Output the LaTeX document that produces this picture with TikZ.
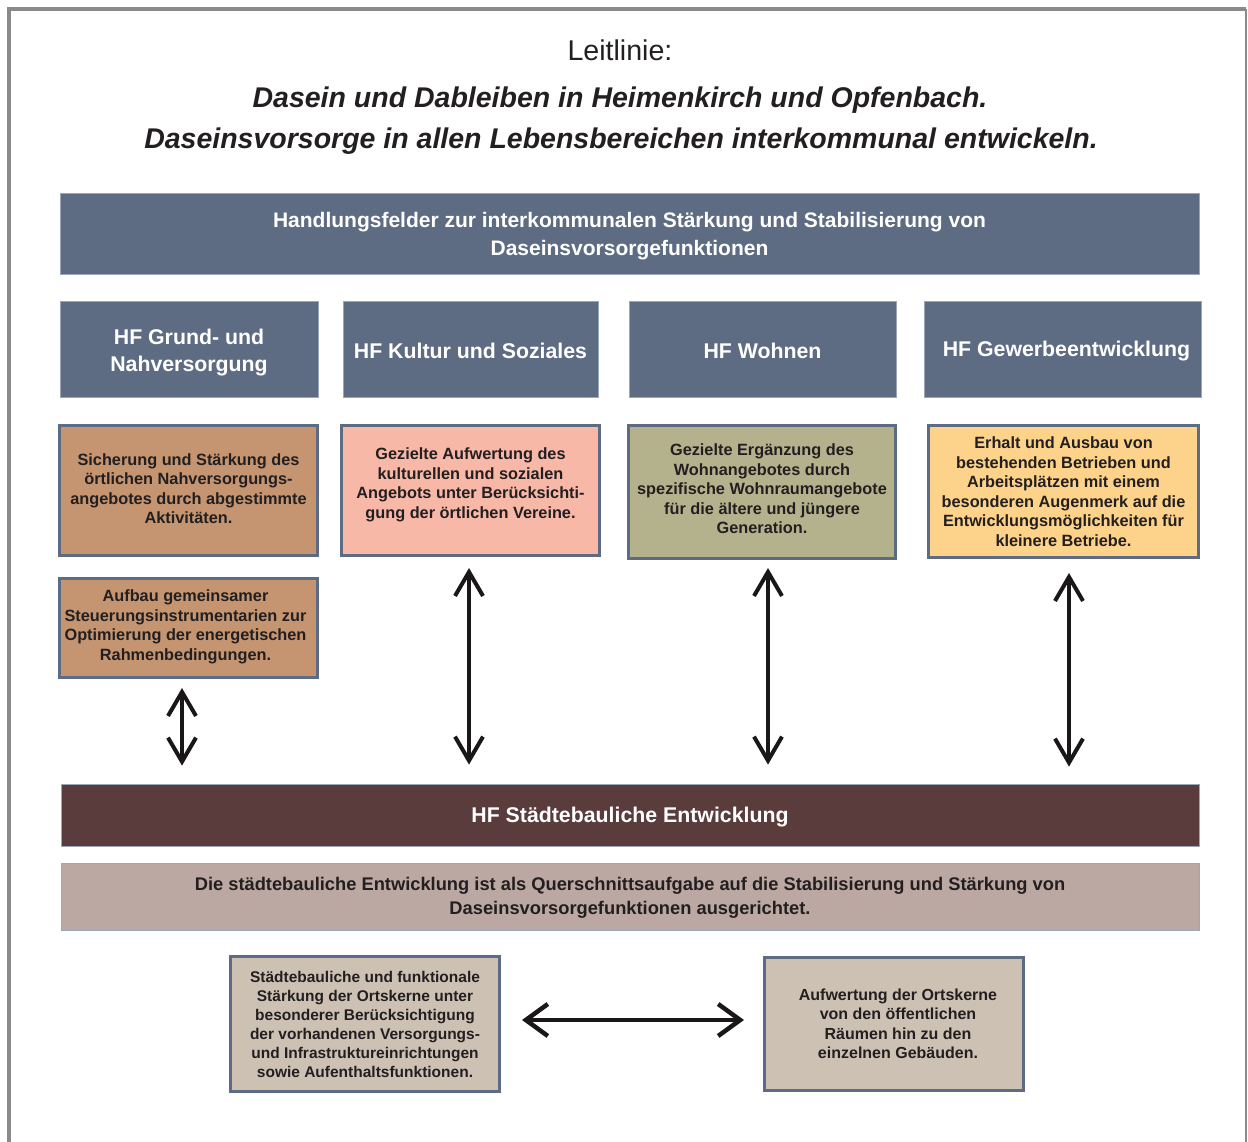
\documentclass[tikz,border=0pt]{standalone}
\usepackage{fontspec}
\setmainfont{Liberation Sans}
\usetikzlibrary{arrows.meta}
\definecolor{slate}{HTML}{5E6C83}
\definecolor{slateedge}{HTML}{9AA7B9}
\definecolor{txt}{HTML}{231F20}
\definecolor{tan}{HTML}{C49570}
\definecolor{salmon}{HTML}{F8B8A8}
\definecolor{olive}{HTML}{B3B28D}
\definecolor{apricot}{HTML}{FDD38B}
\definecolor{maroon}{HTML}{5A3C3D}
\definecolor{taupe}{HTML}{BBA8A2}
\definecolor{beige}{HTML}{CDC1B4}
\definecolor{framec}{HTML}{8A8A8A}
\definecolor{arrowc}{HTML}{1A1718}
\tikzset{
  hfbox/.style={fill=slate, draw=slateedge, line width=1pt, inner sep=0pt},
  hftext/.style={inner sep=0pt, text=white, align=center, font=\bfseries\fontsize{21.3}{27}\selectfont},
  cbox/.style={draw=slate, line width=3pt, inner sep=0pt},
  ctext/.style={inner sep=0pt, align=center, text=txt, font=\bfseries\fontsize{16.3}{19.5}\selectfont},
  dbl/.style={{Straight Barb[length=24pt,width=28pt]}-{Straight Barb[length=24pt,width=28pt]}, line width=4pt, draw=arrowc},
  hdbl/.style={{Straight Barb[length=22pt,width=32pt]}-{Straight Barb[length=22pt,width=32pt]}, line width=4.5pt, draw=arrowc}
}
\begin{document}
\begin{tikzpicture}[x=1pt,y=-1pt]
\useasboundingbox (0,0) rectangle (1248,1142);
% frame
\draw[framec, line width=3.5pt] (9,1142) -- (9,9) -- (1246,9);
\draw[framec, line width=1.5pt] (1246,9) -- (1246,1142);
% title
\node[font=\fontsize{28.6}{34}\selectfont, text=txt] (t1) at (620,50) {Leitlinie:};
\node[font=\bfseries\itshape\fontsize{28.5}{34}\selectfont, text=txt] (t2) at (620,100) {Dasein und Dableiben in Heimenkirch und Opfenbach.};
\node[font=\bfseries\itshape\fontsize{28.5}{34}\selectfont, text=txt] (t3) at (621,141) {Daseinsvorsorge in allen Lebensbereichen interkommunal entwickeln.};
% header
\node[hfbox, minimum width=1139pt, minimum height=81pt] (head) at (629.5,234.5) {};
\node[hftext, font=\bfseries\fontsize{21}{28}\selectfont] (headt) at ([yshift=-2pt]head.center)
  {Handlungsfelder zur interkommunalen Stärkung und Stabilisierung von\\Daseinsvorsorgefunktionen};
% HF boxes
\node[hfbox, minimum width=258pt, minimum height=96pt] (hf1) at (189,349) {};
\node[hfbox, minimum width=255pt, minimum height=96pt] (hf2) at (470.5,349) {};
\node[hfbox, minimum width=267pt, minimum height=96pt] (hf3) at (762.5,349) {};
\node[hfbox, minimum width=277pt, minimum height=96pt] (hf4) at (1062.5,349) {};
\node[hftext] (hf1t) at ([yshift=-3.5pt]hf1.center) {HF Grund- und\\Nahversorgung};
\node[hftext] (hf2t) at ([yshift=-2pt]hf2.center) {HF Kultur und Soziales};
\node[hftext] (hf3t) at ([yshift=-2pt]hf3.center) {HF Wohnen};
\node[hftext] (hf4t) at ([xshift=4pt,yshift=-2.5pt]hf4.center) {HF Gewerbeentwicklung};
% coloured boxes
\node[cbox, fill=tan, minimum width=258pt, minimum height=130pt] (b1) at (188.5,490.5) {};
\node[cbox, fill=salmon, minimum width=258pt, minimum height=130pt] (b2) at (470.5,490.5) {};
\node[cbox, fill=olive, minimum width=267pt, minimum height=133pt] (b3) at (762,492) {};
\node[cbox, fill=apricot, minimum width=270pt, minimum height=132pt] (b4) at (1063.5,491.5) {};
\node[cbox, fill=tan, minimum width=258pt, minimum height=99pt] (b1b) at (188.5,628) {};
\node[ctext] (b1t) at ([yshift=2pt]b1.center)
  {Sicherung und Stärkung des\\örtlichen Nahversorgungs-\\angebotes durch abgestimmte\\Aktivitäten.};
\node[ctext] (b2t) at ([yshift=5.5pt]b2.center)
  {Gezielte Aufwertung des\\kulturellen und sozialen\\Angebots unter Berücksichti-\\gung der örtlichen Vereine.};
\node[ctext] (b3t) at ([yshift=3pt]b3.center)
  {Gezielte Ergänzung des\\Wohnangebotes durch\\spezifische Wohnraumangebote\\für die ältere und jüngere\\Generation.};
\node[ctext] (b4t) at (b4.center)
  {Erhalt und Ausbau von\\bestehenden Betrieben und\\Arbeitsplätzen mit einem\\besonderen Augenmerk auf die\\Entwicklungsmöglichkeiten für\\kleinere Betriebe.};
\node[ctext] (b1bt) at ([xshift=-3pt,yshift=1pt]b1b.center)
  {Aufbau gemeinsamer\\Steuerungsinstrumentarien zur\\Optimierung der energetischen\\Rahmenbedingungen.};
% Städtebau bar
\node[fill=maroon, draw=slateedge, line width=0.8pt, inner sep=0pt, minimum width=1138pt, minimum height=62pt] (bar) at (630,815) {};
\node[hftext] (bart) at ([yshift=-2.5pt]bar.center) {HF Städtebauliche Entwicklung};
\node[fill=taupe, draw=slateedge, line width=0.8pt, inner sep=0pt, minimum width=1138pt, minimum height=67pt] (band) at (630,896.5) {};
\node[ctext, font=\bfseries\fontsize{18.3}{24}\selectfont] (bandt) at ([yshift=-1pt]band.center)
  {Die städtebauliche Entwicklung ist als Querschnittsaufgabe auf die Stabilisierung und Stärkung von\\Daseinsvorsorgefunktionen ausgerichtet.};
% bottom boxes
\node[cbox, fill=beige, minimum width=269pt, minimum height=135pt] (bl) at (365,1024) {};
\node[cbox, fill=beige, minimum width=259pt, minimum height=133pt] (br) at (894,1024) {};
\node[ctext, font=\bfseries\fontsize{15.5}{19}\selectfont] (blt) at (bl.center)
  {Städtebauliche und funktionale\\Stärkung der Ortskerne unter\\besonderer Berücksichtigung\\der vorhandenen Versorgungs-\\und Infrastruktureinrichtungen\\sowie Aufenthaltsfunktionen.};
\node[ctext, font=\bfseries\fontsize{16}{19.5}\selectfont] (brt) at ([xshift=4pt]br.center)
  {Aufwertung der Ortskerne\\von den öffentlichen\\Räumen hin zu den\\einzelnen Gebäuden.};
% arrows
\draw[dbl, shorten <=9pt, shorten >=18pt] ([xshift=-6.5pt]b1b.south) -- ([xshift=-6.5pt]b1b.south |- bar.north);
\draw[dbl, shorten <=11pt, shorten >=19pt] ([xshift=-1.5pt]b2.south) -- ([xshift=-1.5pt]b2.south |- bar.north);
\draw[dbl, shorten <=8pt, shorten >=19pt] ([xshift=6pt]b3.south) -- ([xshift=6pt]b3.south |- bar.north);
\draw[dbl, shorten <=14pt, shorten >=17pt] ([xshift=5.5pt]b4.south) -- ([xshift=5.5pt]b4.south |- bar.north);
\draw[hdbl, shorten <=21pt, shorten >=19pt] ([yshift=4pt]bl.east) -- ([yshift=4pt]bl.east -| br.west);
\end{tikzpicture}
\end{document}
